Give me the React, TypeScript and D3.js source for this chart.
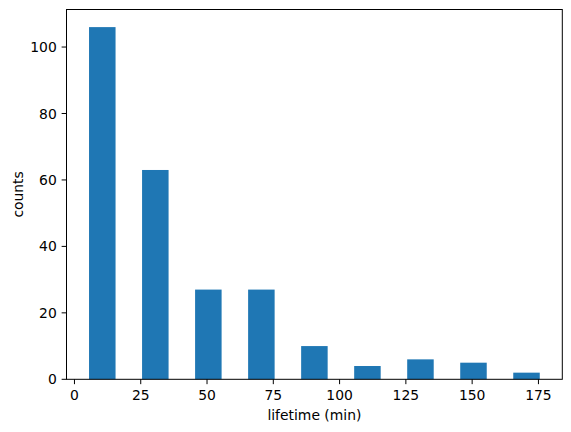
import { useEffect } from "react";
import * as d3 from "d3";

// histogram bins (lifetime in minutes) and counts
const binEdges = [0.5, 20.5, 40.5, 60.5, 80.5, 100.5, 120.5, 140.5, 160.5, 180.5];
const counts = [106, 63, 27, 27, 10, 4, 6, 5, 2];
const xTicks = [0, 25, 50, 75, 100, 125, 150, 175];
const yTicks = [0, 20, 40, 60, 80, 100];
const rwidth = 0.5;

const W = 571;
const H = 432;
const margin = { top: 9.5, right: 8.7, bottom: 52.7, left: 66.5 };
const font = "DejaVu Sans, sans-serif";
const fs = 13.9;

function App() {
  useEffect(() => {
    document.body.style.margin = "0";
  }, []);

  const bars = counts.map((c, i) => {
    const w = binEdges[i + 1] - binEdges[i];
    const mid = (binEdges[i] + binEdges[i + 1]) / 2;
    return { x0: mid - (w * rwidth) / 2, x1: mid + (w * rwidth) / 2, count: c };
  });

  const lo = d3.min(bars, (d) => d.x0) as number;
  const hi = d3.max(bars, (d) => d.x1) as number;
  const pad = (hi - lo) * 0.05;

  const x = d3
    .scaleLinear()
    .domain([lo - pad, hi + pad])
    .range([margin.left, W - margin.right]);
  const y = d3
    .scaleLinear()
    .domain([0, (d3.max(counts) as number) * 1.05])
    .range([H - margin.bottom, margin.top]);

  const [x0, x1] = x.range();
  const [yb, yt] = y.range();
  const tickLen = 4.86;

  return (
    <svg width={W} height={H} style={{ display: "block", background: "#fff" }}>
      {bars.map((b, i) => (
        <rect
          key={i}
          x={x(b.x0)}
          y={y(b.count)}
          width={x(b.x1) - x(b.x0)}
          height={y(0) - y(b.count)}
          fill="#1f77b4"
        />
      ))}
      <rect
        x={x0}
        y={yt}
        width={x1 - x0}
        height={yb - yt}
        fill="none"
        stroke="#000"
        strokeWidth={1}
      />
      {xTicks.map((t) => (
        <g key={t} transform={`translate(${x(t)},${yb})`}>
          <line y2={tickLen} stroke="#000" strokeWidth={1} />
          <text
            y={20.7}
            textAnchor="middle"
            fontFamily={font}
            fontSize={fs}
            fill="#000"
          >
            {t}
          </text>
        </g>
      ))}
      {yTicks.map((t) => (
        <g key={t} transform={`translate(${x0},${y(t)})`}>
          <line x2={-tickLen} stroke="#000" strokeWidth={1} />
          <text
            x={-tickLen - 4.86}
            dy="0.36em"
            textAnchor="end"
            fontFamily={font}
            fontSize={fs}
            fill="#000"
          >
            {t}
          </text>
        </g>
      ))}
      <text
        x={(x0 + x1) / 2}
        y={419.5}
        textAnchor="middle"
        fontFamily={font}
        fontSize={fs}
        fill="#000"
      >
        lifetime (min)
      </text>
      <text
        transform={`translate(23,${(yb + yt) / 2}) rotate(-90)`}
        textAnchor="middle"
        fontFamily={font}
        fontSize={fs}
        fill="#000"
      >
        counts
      </text>
    </svg>
  );
}

export default App;
